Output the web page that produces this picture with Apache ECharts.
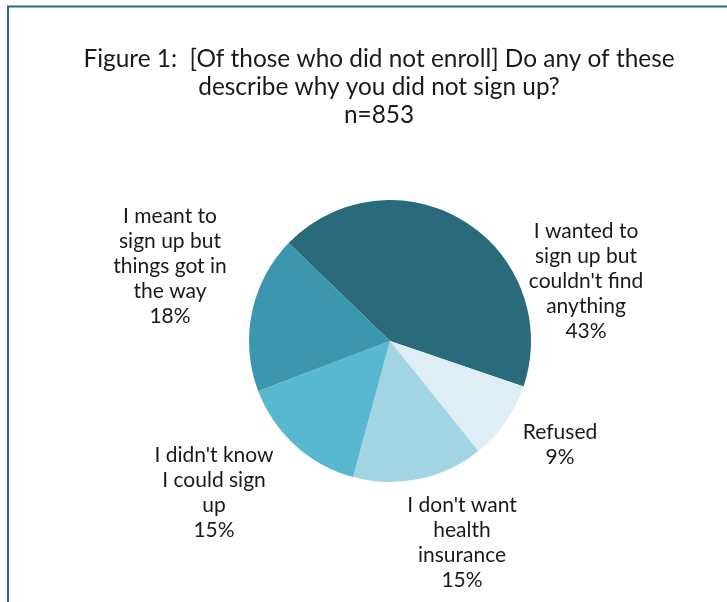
<!DOCTYPE html>
<html>
<head>
<meta charset="utf-8">
<script src="https://cdn.jsdelivr.net/npm/echarts@6/dist/echarts.min.js"></script>
<style>
  html, body { margin: 0; padding: 0; background: #ffffff; }
  #chart { width: 727px; height: 602px; }
</style>
</head>
<body>
<div id="chart"></div>
<script>
// Reasons for not enrolling, share of respondents (n=853)
const categories = [
  "I wanted to\nsign up but\ncouldn't find\nanything",
  "Refused",
  "I don't want\nhealth\ninsurance",
  "I didn't know\nI could sign\nup",
  "I meant to\nsign up but\nthings got in\nthe way"
];
const shares = [43, 9, 15, 15, 18];
const sliceColors = ['#296b7b', '#deeef5', '#a2d5e3', '#58b8d0', '#3c97ae'];
const titleLines = [
  'Figure 1:  [Of those who did not enroll] Do any of these',
  'describe why you did not sign up?',
  'n=853'
];

// Centre point of each label block, in pixels
const labelSpots = [[586, 281], [560, 445], [462, 543], [214, 493], [170, 266]];

const chart = echarts.init(document.getElementById('chart'), null, { renderer: 'canvas' });

chart.setOption({
  animation: false,
  backgroundColor: '#ffffff',
  title: {
    text: titleLines.join('\n'),
    left: 374,
    top: 40,
    textAlign: 'center',
    textStyle: {
      fontFamily: 'Lato',
      fontSize: 24.4,
      fontWeight: 'normal',
      color: '#1a1a1a',
      lineHeight: 28
    }
  },
  graphic: [
    {
      type: 'rect',
      shape: { x: 8, y: 6.5, width: 800, height: 700 },
      style: { fill: 'none', stroke: '#2a6b7c', lineWidth: 2 },
      silent: true
    }
  ],
  series: [
    {
      type: 'pie',
      center: [390, 341],
      radius: 141,
      startAngle: 136,
      clockwise: true,
      data: categories.map((name, i) => ({
        name: name,
        value: shares[i],
        itemStyle: { color: sliceColors[i] }
      })),
      label: {
        show: true,
        position: 'outside',
        formatter: '{b}\n{c}%',
        fontFamily: 'Lato',
        fontSize: 21,
        lineHeight: 25,
        color: '#1a1a1a',
        align: 'center'
      },
      labelLine: { show: false },
      labelLayout: function (params) {
        const p = labelSpots[params.dataIndex];
        return { x: p[0], y: p[1], align: 'center', verticalAlign: 'middle' };
      },
      emphasis: { disabled: true }
    }
  ]
});
</script>
</body>
</html>
